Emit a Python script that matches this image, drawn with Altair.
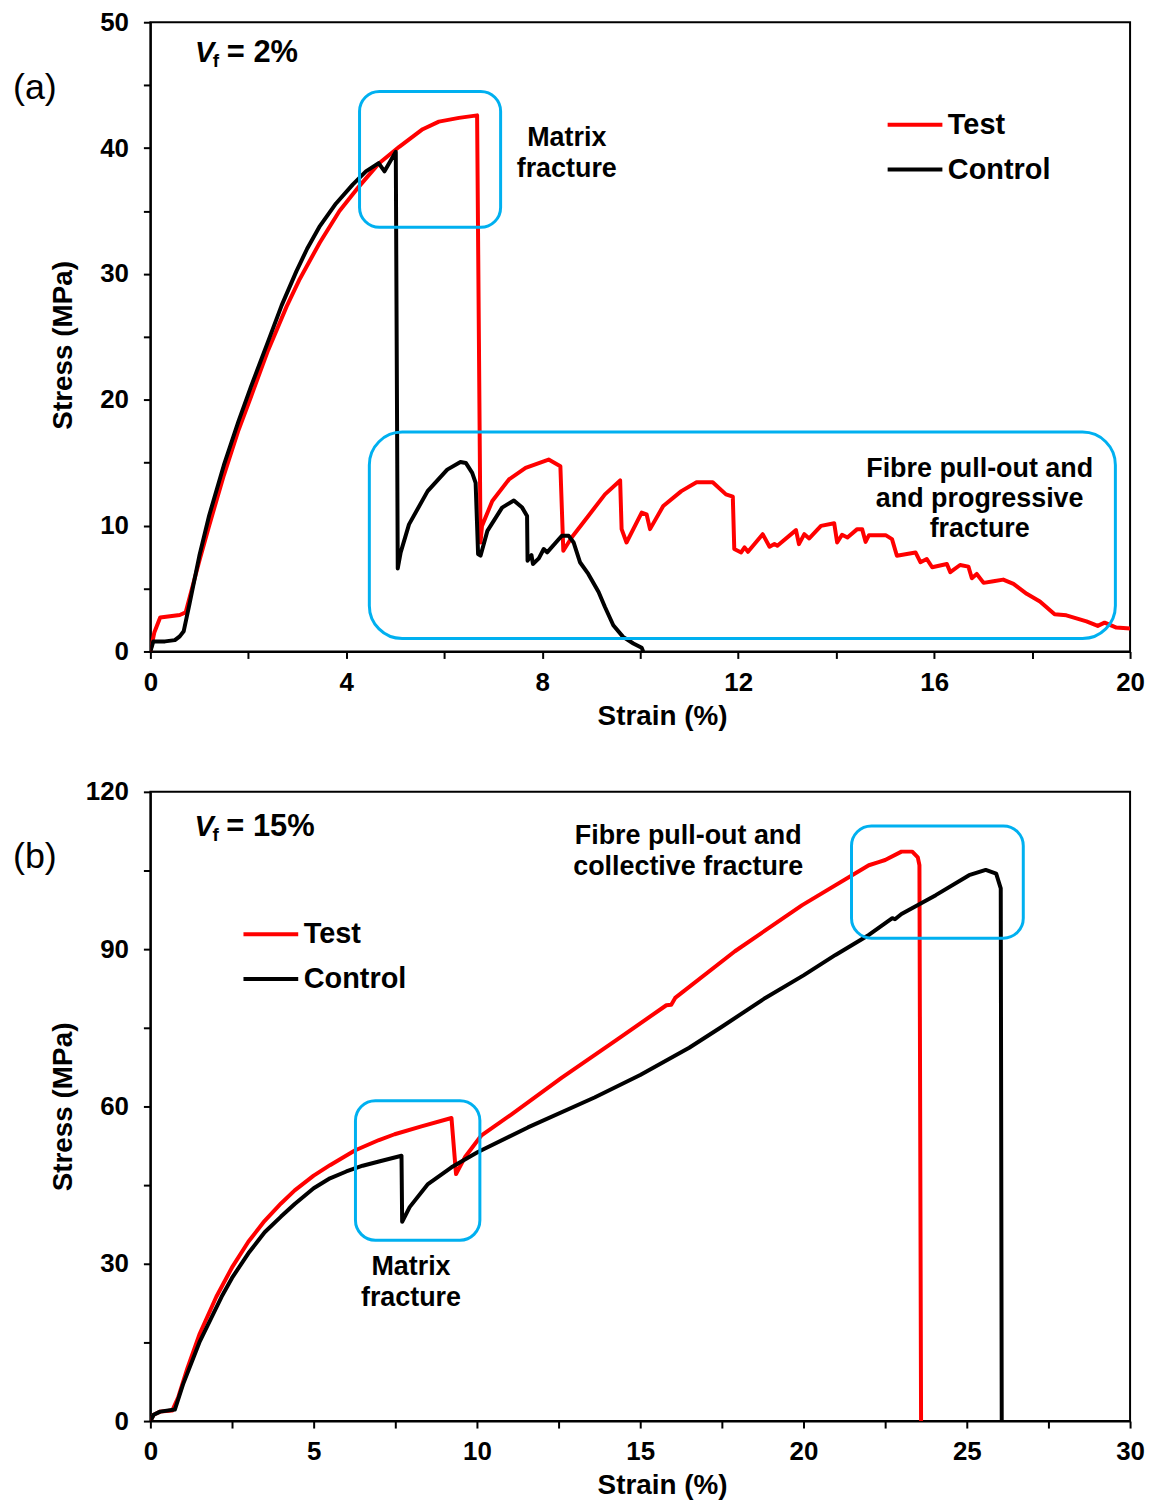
import altair as alt
import pandas as pd

# ---------------- data: panel (a), Vf = 2% ----------------
a_test_strain = [0, 0.08, 0.2, 0.4, 0.6, 0.72, 0.85, 1.0, 1.2, 1.5, 1.8, 2.05, 2.4, 2.78, 3.05, 3.46, 3.86,
                 4.27, 4.67, 5.08, 5.56, 5.89, 6.30, 6.67, 6.74, 6.77, 6.98, 7.32, 7.66, 8.13, 8.37, 8.43,
                 8.60, 8.94, 9.28, 9.59, 9.62, 9.72, 10.03, 10.13, 10.20, 10.47, 10.84, 11.15, 11.48, 11.75,
                 11.89, 11.92, 12.06, 12.13, 12.20, 12.50, 12.64, 12.74, 12.80, 13.18, 13.24, 13.35, 13.45,
                 13.69, 13.96, 14.02, 14.12, 14.23, 14.43, 14.53, 14.60, 14.67, 15.01, 15.14, 15.24, 15.62,
                 15.72, 15.85, 15.96, 16.26, 16.33, 16.53, 16.70, 16.77, 16.87, 17.01, 17.21, 17.41, 17.62,
                 17.89, 18.16, 18.46, 18.70, 19.11, 19.34, 19.48, 19.72, 20.0]
a_test_stress = [0, 1.5, 2.7, 2.8, 2.9, 3.1, 5.0, 7.2, 10.0, 14.0, 17.6, 20.2, 23.9, 27.4, 29.6, 32.5, 35.0,
                 37.0, 38.8, 40.1, 41.5, 42.1, 42.4, 42.6, 8.66, 9.98, 11.95, 13.67, 14.59, 15.25, 14.72, 8.0,
                 9.06, 10.77, 12.48, 13.59, 9.72, 8.66, 11.03, 10.9, 9.72, 11.56, 12.74, 13.45, 13.45, 12.48,
                 12.3, 8.14, 7.87, 8.27, 7.92, 9.32, 8.32, 8.53, 8.4, 9.64, 8.53, 9.32, 8.98,
                 9.98, 10.19, 8.66, 9.27, 9.06, 9.72, 9.72, 8.71, 9.24, 9.24, 8.93, 7.61, 7.87,
                 7.09, 7.35, 6.69, 6.95, 6.3, 6.87, 6.74, 5.82, 6.16, 5.45, 5.58, 5.71, 5.37,
                 4.58, 3.97, 2.95, 2.87, 2.39, 2.03, 2.29, 1.9, 1.82]
a_ctrl_strain = [0, 0.06, 0.3, 0.5, 0.6, 0.68, 0.8, 1.0, 1.2, 1.5, 1.8, 2.05, 2.4, 2.68, 2.98, 3.2, 3.46,
                 3.79, 4.13, 4.40, 4.66, 4.78, 5.01, 5.05, 5.11, 5.28, 5.66, 6.06, 6.33, 6.44, 6.57, 6.64,
                 6.69, 6.74, 6.88, 7.18, 7.42, 7.59, 7.69, 7.70, 7.78, 7.81, 7.93, 8.03, 8.10, 8.40, 8.54,
                 8.64, 8.77, 8.94, 9.15, 9.28, 9.45, 9.65, 9.86, 10.03, 10.06]
a_ctrl_stress = [0, 0.8, 0.8, 0.9, 1.2, 1.6, 3.8, 7.6, 10.8, 14.8, 18.3, 21.0, 24.6, 27.5, 30.2, 32.0, 33.8,
                 35.6, 37.1, 38.15, 38.8, 38.15, 39.7, 6.6, 7.87, 10.1, 12.74, 14.45, 15.06, 14.98, 14.19,
                 13.4, 7.74, 7.61, 9.58, 11.43, 12.0, 11.43, 10.77, 7.21, 7.66, 6.95, 7.4, 8.14, 7.87, 9.19,
                 9.19, 8.66, 7.09, 6.16, 4.72, 3.53, 2.08, 1.16, 0.63, 0.29, 0]

# ---------------- data: panel (b), Vf = 15% ----------------
b_test_strain = [0, 0.1, 0.3, 0.67, 0.85, 1.13, 1.5, 2.02, 2.5, 3.0, 3.5, 4.0, 4.42, 5.0, 5.5, 6.26, 7.0,
                 7.48, 8.3, 9.22, 9.36, 9.63, 10.14, 11.06, 12.6, 14.3, 15.8, 15.95, 16.07, 17.9, 19.96,
                 22.0, 22.3, 22.5, 23.0, 23.33, 23.5, 23.55, 23.6]
b_test_stress = [0, 1.2, 1.8, 2.0, 4.5, 10.0, 16.5, 23.7, 29.3, 34.2, 38.2, 41.5, 44.0, 46.8, 48.8, 51.6, 53.6,
                 54.7, 56.2, 57.8, 47.1, 50.3, 54.5, 58.5, 65.5, 72.8, 79.3, 79.4, 80.7, 89.6, 98.4,
                 106.0, 106.6, 107.0, 108.6, 108.6, 107.5, 106.0, 0]
b_ctrl_strain = [0, 0.1, 0.3, 0.75, 1.0, 1.5, 2.18, 2.5, 3.0, 3.5, 4.0, 4.42, 5.0, 5.5, 6.0, 6.5, 7.0, 7.69,
                 7.71, 7.94, 8.5, 9.22, 10.03, 11.56, 13.6, 15.0, 16.5, 17.5, 18.83, 20.0, 20.98, 22.0,
                 22.72, 22.8, 23.0, 24.05, 25.07, 25.58, 25.9, 26.04, 26.07]
b_ctrl_stress = [0, 1.2, 1.8, 2.2, 7.0, 15.0, 23.7, 27.3, 32.0, 36.0, 39.0, 41.4, 44.4, 46.3, 47.6, 48.7, 49.5,
                 50.6, 38.0, 40.8, 45.2, 48.4, 51.3, 56.0, 61.7, 66.0, 71.2, 75.2, 80.7, 85.0, 88.9, 92.7,
                 95.9, 95.7, 96.7, 100.3, 104.1, 105.1, 104.4, 101.6, 0]

series_names = ["Test", "Control"]
series_colors = ["#FF0000", "#000000"]

# highlight boxes (strain / stress extents)
a_box_x1 = [4.27, 4.47]
a_box_x2 = [7.15, 19.70]
a_box_y1 = [33.7, 1.03]
a_box_y2 = [44.5, 17.43]
b_box_x1 = [6.28, 21.47]
b_box_x2 = [10.09, 26.73]
b_box_y1 = [34.5, 92.1]
b_box_y2 = [61.1, 113.5]

# annotations (anchor in strain / stress)
a_ann_text = ["Matrix", "fracture", "Fibre pull-out and", "and progressive", "fracture"]
a_ann_x = [8.5, 8.5, 16.93, 16.93, 16.93]
a_ann_y = [40.8, 38.3, 14.5, 12.1, 9.7]
b_ann_text = ["Fibre pull-out and", "collective fracture", "Matrix", "fracture"]
b_ann_x = [16.47, 16.47, 7.98, 7.98]
b_ann_y = [111.6, 105.75, 29.4, 23.5]

a_vf = ["V", "f", "= 2%"]
b_vf = ["V", "f", "= 15%"]
a_vf_x, a_vf_y = 0.91, 46.8
b_vf_x, b_vf_y = 1.35, 111.6

BLUE = "#00B0F0"
FONT = "Liberation Sans"


def series_df(xs, ys, name):
    return pd.DataFrame({"strain": xs, "stress": ys, "series": name, "idx": list(range(len(xs)))})


def panel(test, ctrl, xdom, xstep, xlab, ydom, ystep, ylab, boxes, radii, ann, vf, vfpos,
          label, label_y, legend_xy, ytitle_pad, ytitle_y):
    xs = alt.Scale(domain=xdom, nice=False, zero=False)
    ys = alt.Scale(domain=ydom, nice=False, zero=False)
    nx = int(round((xdom[1] - xdom[0]) / xstep))
    ny = int(round((ydom[1] - ydom[0]) / ystep))
    xvals = [round(xdom[0] + i * xstep, 3) for i in range(nx + 1)]
    yvals = [round(ydom[0] + i * ystep, 3) for i in range(ny + 1)]
    xaxis = alt.Axis(values=xvals, labelExpr=f"datum.value % {xlab} == 0 ? datum.label : ''",
                     title="Strain (%)", titlePadding=7, titleX=514, labelPadding=11)
    yaxis_kw = dict(values=yvals, labelExpr=f"datum.value % {ylab} == 0 ? datum.label : ''",
                    title="Stress (MPa)", titlePadding=ytitle_pad, labelPadding=15)
    if ytitle_y is not None:
        yaxis_kw["titleY"] = ytitle_y
    yaxis = alt.Axis(**yaxis_kw)
    color = alt.Color("series:N", scale=alt.Scale(domain=series_names, range=series_colors),
                      legend=alt.Legend(title=None, orient="none", legendX=legend_xy[0],
                                        legendY=legend_xy[1], symbolType="M-2,0H2", symbolSize=756,
                                        symbolStrokeWidth=4, labelOffset=17, rowPadding=14,
                                        labelFontSize=29, labelFont=FONT, labelFontWeight="bold",
                                        labelColor="black", labelLimit=400, padding=0))
    layers = []
    for df in (test, ctrl):
        layers.append(alt.Chart(df).mark_line(strokeWidth=4, strokeJoin="round", clip=True).encode(
            x=alt.X("strain:Q", scale=xs, axis=xaxis),
            y=alt.Y("stress:Q", scale=ys, axis=yaxis),
            color=color,
            order="idx:Q"))
    for (x1, x2, y1, y2), r in zip(boxes, radii):
        bdf = pd.DataFrame({"x1": [x1], "x2": [x2], "y1": [y1], "y2": [y2]})
        layers.append(alt.Chart(bdf).mark_rect(fillOpacity=0, stroke=BLUE, strokeWidth=3,
                                               cornerRadius=r).encode(
            x=alt.X("x1:Q", scale=xs), x2="x2:Q", y=alt.Y("y1:Q", scale=ys), y2="y2:Q"))
    adf = pd.DataFrame({"t": ann[0], "x": ann[1], "y": ann[2]})
    layers.append(alt.Chart(adf).mark_text(font=FONT, fontSize=27, fontWeight="bold", align="center",
                                           baseline="middle", color="black").encode(
        x=alt.X("x:Q", scale=xs), y=alt.Y("y:Q", scale=ys), text="t:N"))
    vdf = pd.DataFrame({"x": [vfpos[0]], "y": [vfpos[1]], "v": [vf[0]], "f": [vf[1]], "r": [vf[2]]})
    base = alt.Chart(vdf).encode(x=alt.X("x:Q", scale=xs), y=alt.Y("y:Q", scale=ys))
    layers.append(base.mark_text(font=FONT, fontSize=29, fontWeight="bold", fontStyle="italic",
                                 align="left", baseline="alphabetic", color="black").encode(text="v:N"))
    layers.append(base.mark_text(font=FONT, fontSize=19, fontWeight="bold", align="left", dx=18, dy=5,
                                 baseline="alphabetic", color="black").encode(text="f:N"))
    layers.append(base.mark_text(font=FONT, fontSize=31, fontWeight="bold", align="left", dx=32,
                                 baseline="alphabetic", color="black").encode(text="r:N"))
    ldf = pd.DataFrame({"t": [label]})
    layers.append(alt.Chart(ldf).mark_text(font=FONT, fontSize=36, align="left", baseline="middle",
                                           color="black").encode(
        x=alt.value(-138), y=alt.value(label_y), text="t:N"))
    return alt.layer(*layers).properties(width=984, height=632)


a_test = series_df(a_test_strain, a_test_stress, "Test")
a_ctrl = series_df(a_ctrl_strain, a_ctrl_stress, "Control")
b_test = series_df(b_test_strain, b_test_stress, "Test")
b_ctrl = series_df(b_ctrl_strain, b_ctrl_stress, "Control")

pa = panel(a_test, a_ctrl, [0, 20], 2, 4, [0, 50], 5, 10,
           list(zip(a_box_x1, a_box_x2, a_box_y1, a_box_y2)), [20, 33],
           (a_ann_text, a_ann_x, a_ann_y), a_vf, (a_vf_x, a_vf_y), "(a)", 66, (752, 87), 22, 324)
pb = panel(b_test, b_ctrl, [0, 30], 2.5, 5, [0, 120], 15, 30,
           list(zip(b_box_x1, b_box_x2, b_box_y1, b_box_y2)), [20, 20],
           (b_ann_text, b_ann_x, b_ann_y), b_vf, (b_vf_x, b_vf_y), "(b)", 65, (105, 127), 8, None)

chart = alt.vconcat(pa, pb, spacing=47).resolve_scale(color="independent").resolve_legend(
    color="independent").properties(
    padding={"left": 4, "top": -3, "right": 0, "bottom": 0}
).configure_view(stroke="black", strokeWidth=2).configure_axis(
    grid=False, domainColor="black", domainWidth=2, tickColor="black", tickWidth=2, tickSize=7,
    labelFont=FONT, labelFontSize=26, labelFontWeight="bold", labelColor="black",
    titleFont=FONT, titleFontSize=28, titleFontWeight="bold", titleColor="black",
    labelOverlap=False, labelBound=False, labelFlush=False
)

chart.save("out.html", embed_options={"renderer": "svg", "actions": False})
